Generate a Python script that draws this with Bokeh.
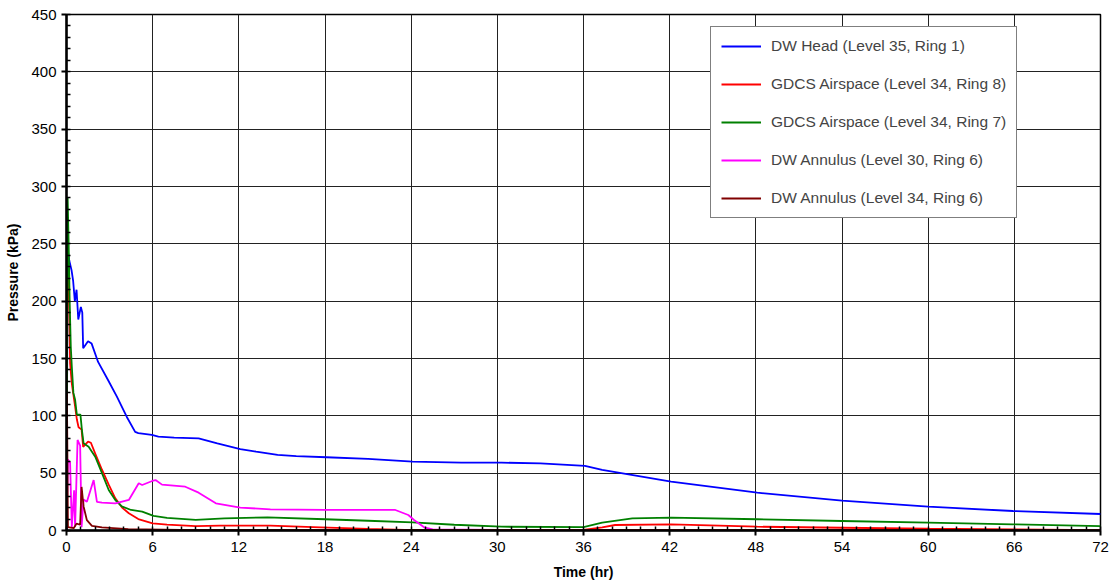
from bokeh.plotting import figure
from bokeh.models import Range1d, SingleIntervalTicker, Legend, LegendItem
from bokeh.embed import file_html
from bokeh.resources import INLINE

# ---------------- data ----------------
t_head = [0, 0.08, 0.2, 0.35, 0.46, 0.58, 0.7, 0.82, 1.0, 1.1, 1.16, 1.5, 1.75, 2.2, 2.9,
          3.5, 4.2, 4.78, 5.0, 5.94, 6.4, 7.5, 9.2, 10.5, 12.1, 13.2, 14.7, 16, 18.1, 21,
          24.1, 27.5, 30.3, 33, 36.1, 37.3, 42.1, 48.1, 54, 60, 65.9, 72]
p_head = [0, 245, 235, 227, 218, 200, 210, 184, 195, 190, 159, 165, 163, 147, 131,
          117, 99, 86, 85, 83.3, 81.8, 81, 80.4, 76, 71, 68.8, 65.9, 64.8, 63.9, 62.4,
          60, 59.2, 59.2, 58.5, 56.3, 52.8, 42.6, 33, 26, 20.8, 17, 14.4]

t_gdcs8 = [0, 0.06, 0.18, 0.25, 0.37, 0.6, 0.72, 0.84, 1.05, 1.16, 1.5, 1.7, 2.0, 2.47,
           2.94, 3.4, 3.87, 4.34, 5.0, 6.0, 7.0, 9.0, 10.7, 14.2, 17.7, 21, 24.2, 30,
           36.0, 37.3, 38.2, 42.1, 48.1, 54, 60, 66, 72]
p_gdcs8 = [0, 252, 200, 146, 128, 108, 97, 90, 88, 73, 77.5, 76.5, 67, 53,
           40, 28, 20, 15, 10, 6.3, 5.2, 3.9, 4.2, 4.2, 2.8, 1.5, 0.4, 0.4,
           0.6, 2.8, 4.8, 5.4, 3.3, 2.4, 1.6, 1.0, 0.4]

t_gdcs7 = [0, 0.08, 0.15, 0.22, 0.3, 0.37, 0.48, 0.6, 0.72, 0.97, 1.07, 1.19, 1.54, 2.0,
           2.47, 2.94, 3.4, 3.85, 4.5, 5.27, 6.06, 7.0, 9.0, 11, 14, 18, 21, 24.1, 27,
           30.3, 36.0, 37.3, 39.4, 42.1, 48.1, 54, 60, 65.9, 72]
p_gdcs7 = [0, 290, 250, 200, 160, 143, 120, 114, 101, 101, 88, 76, 73, 64.4,
           50, 35.3, 26.6, 21, 17.9, 16.4, 12.7, 11, 9.2, 10.6, 11.5, 9.8, 8.5, 7.1, 5,
           3.3, 3.0, 6.8, 10.6, 11.2, 9.8, 8.3, 6.8, 5.4, 3.9]

t_ann30 = [0, 0.1, 0.25, 0.37, 0.53, 0.6, 0.77, 0.95, 1.05, 1.19, 1.42, 1.89, 2.12, 2.47,
           3.4, 4.34, 5.03, 5.27, 5.97, 6.2, 6.65, 8.27, 9.2, 10.4, 12.1, 14.2, 18, 22.9,
           23.8, 24.2, 24.9, 25.5, 30, 72]
p_ann30 = [0, 62, 59, 3, 35, 3, 79, 74, 3, 27, 25, 44, 25, 24.3,
           23.7, 26.6, 41.2, 39.7, 43.2, 44, 40, 38.2, 33, 23.7, 19.9, 18.5, 17.9, 17.9,
           13.5, 9.2, 2.8, 1.0, 0.5, 0.3]

t_ann34 = [0, 0.03, 0.1, 0.5, 0.7, 0.95, 1.05, 1.19, 1.42, 1.77, 2.47, 4.3, 8, 72]
p_ann34 = [0, 120, 3, 2, 6, 5, 38, 21, 9, 4, 2.8, 1.2, 0.5, 0.5]

names = ["DW Head (Level 35, Ring 1)",
         "GDCS Airspace (Level 34, Ring 8)",
         "GDCS Airspace (Level 34, Ring 7)",
         "DW Annulus (Level 30, Ring 6)",
         "DW Annulus (Level 34, Ring 6)"]
colors = ["#0000FF", "#FF0000", "#008000", "#FF00FF", "#800000"]

x_ticks_interval = 6
y_ticks_interval = 50

# ---------------- figure ----------------
FONT = "Liberation Sans"
p = figure(width=1112, height=588, output_backend="svg", toolbar_location=None,
           x_range=Range1d(0, 72), y_range=Range1d(0, 450),
           min_border_left=66, min_border_right=12, min_border_top=14, min_border_bottom=58,
           background_fill_color="white", border_fill_color="white")

series = [(t_head, p_head), (t_gdcs8, p_gdcs8), (t_gdcs7, p_gdcs7),
          (t_ann30, p_ann30), (t_ann34, p_ann34)]
renderers = []
for (tx, py), c in zip(series, colors):
    renderers.append(p.line(tx, py, line_color=c, line_width=1.8))

xt = SingleIntervalTicker(interval=x_ticks_interval, num_minor_ticks=6)
yt = SingleIntervalTicker(interval=y_ticks_interval, num_minor_ticks=5)
p.xaxis.ticker = xt
p.yaxis.ticker = yt
p.xgrid.ticker = xt
p.ygrid.ticker = yt
for g in (p.xgrid, p.ygrid):
    g.grid_line_color = "#222222"
    g.grid_line_width = 1

for ax in (p.xaxis, p.yaxis):
    ax.axis_line_color = "black"
    ax.axis_line_width = 2.5
    ax.major_tick_line_color = "black"
    ax.major_tick_line_width = 2
    ax.minor_tick_line_color = "black"
    ax.minor_tick_line_width = 1.5
    ax.major_tick_out = 5
    ax.major_tick_in = 0
    ax.minor_tick_in = 4
    ax.minor_tick_out = 0
    ax.major_label_text_font = FONT
    ax.major_label_text_font_size = "15px"
    ax.major_label_text_color = "black"
    ax.axis_label_text_font = FONT
    ax.axis_label_text_font_size = "14px"
    ax.axis_label_text_font_style = "bold"
    ax.axis_label_text_color = "black"

p.xaxis.axis_label = "Time (hr)"
p.yaxis.axis_label = "Pressure (kPa)"
p.xaxis.major_label_standoff = 6
p.xaxis.axis_label_standoff = 9
p.yaxis.major_label_standoff = 5
p.yaxis.axis_label_standoff = 7

p.outline_line_color = "black"
p.outline_line_width = 1.5

legend = Legend(items=[LegendItem(label=n, renderers=[r]) for n, r in zip(names, renderers)],
                location=(644, 312), padding=10, margin=0, spacing=20,
                glyph_width=40, glyph_height=18, label_height=18, label_standoff=10,
                label_text_font=FONT, label_text_font_size="15.5px",
                border_line_color="black", border_line_width=1,
                background_fill_color="white", background_fill_alpha=1)
p.add_layout(legend)

open("out.html", "w").write(file_html(p, INLINE))
